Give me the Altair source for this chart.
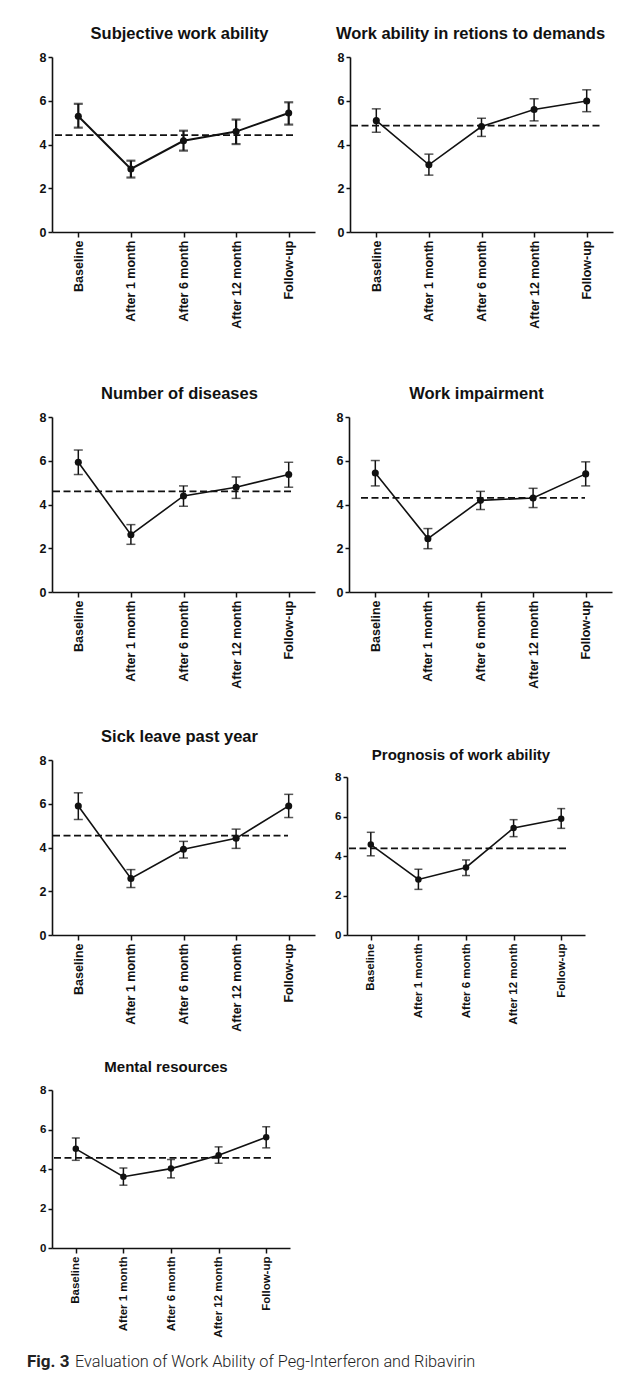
import altair as alt
import pandas as pd

categories = ["Baseline", "After 1 month", "After 6 month", "After 12 month", "Follow-up"]

titles = [
    "Subjective work ability",
    "Work ability in retions to demands",
    "Number of diseases",
    "Work impairment",
    "Sick leave past year",
    "Prognosis of work ability",
    "Mental resources",
]

mean_1 = [5.29, 2.88, 4.17, 4.59, 5.44]
low_1 = [4.77, 2.49, 3.72, 4.02, 4.91]
high_1 = [5.86, 3.26, 4.63, 5.14, 5.93]
ref_1 = 4.43

mean_2 = [5.09, 3.07, 4.82, 5.60, 5.99]
low_2 = [4.56, 2.60, 4.37, 5.08, 5.50]
high_2 = [5.63, 3.56, 5.20, 6.09, 6.50]
ref_2 = 4.86

mean_3 = [5.93, 2.62, 4.39, 4.79, 5.37]
low_3 = [5.37, 2.18, 3.92, 4.28, 4.79]
high_3 = [6.49, 3.08, 4.85, 5.26, 5.93]
ref_3 = 4.60

mean_4 = [5.44, 2.44, 4.19, 4.30, 5.40]
low_4 = [4.85, 1.98, 3.77, 3.86, 4.85]
high_4 = [6.01, 2.90, 4.60, 4.74, 5.95]
ref_4 = 4.30

mean_5 = [5.90, 2.58, 3.92, 4.42, 5.90]
low_5 = [5.28, 2.17, 3.52, 3.96, 5.37]
high_5 = [6.50, 2.99, 4.28, 4.84, 6.43]
ref_5 = 4.54

mean_6 = [4.58, 2.81, 3.42, 5.42, 5.89]
low_6 = [4.01, 2.31, 3.01, 4.98, 5.40]
high_6 = [5.20, 3.33, 3.80, 5.84, 6.40]
ref_6 = 4.39

mean_7 = [5.02, 3.61, 4.02, 4.70, 5.61]
low_7 = [4.44, 3.18, 3.55, 4.29, 5.07]
high_7 = [5.57, 4.05, 4.48, 5.12, 6.14]
ref_7 = 4.56

y_ticks = [0, 2, 4, 6, 8]

caption_bold = "Fig. 3"
caption_rest = "Evaluation of Work Ability of Peg-Interferon and Ribavirin"

FONT = "Liberation Sans"
CAP_FONT = "Roboto"
INK = "#111111"


def panel(title, means, lows, highs, ref, w, h, tsize, lsize, ref_x0, ref_x1,
          bar_w=1.5, line_w=1.6, cap=9, dot=50, top_gap=0, tdx=-4, tdy=0):
    df = pd.DataFrame({"cat": categories, "mean": means, "lo": lows, "hi": highs})
    x = alt.X(
        "cat:N",
        sort=categories,
        scale=alt.Scale(type="point", padding=0.5),
        axis=alt.Axis(
            title=None, labelAngle=-90, labelFont=FONT, labelFontWeight="bold",
            labelFontSize=lsize, labelColor=INK, domainColor=INK, domainWidth=1.6,
            tickColor=INK, tickWidth=1.5, tickSize=5, labelPadding=3,
        ),
    )
    if top_gap > 0:
        yscale = alt.Scale(domain=[0, 8], nice=False, zero=True, range=[h, top_gap])
    else:
        yscale = alt.Scale(domain=[0, 8], nice=False, zero=True)
    yaxis = alt.Axis(
        title=None, values=y_ticks, tickCount=len(y_ticks), grid=False,
        labelFont=FONT, labelFontWeight="bold",
        labelFontSize=lsize, labelColor=INK, domainColor=INK, domainWidth=1.6,
        tickColor=INK, tickWidth=1.5, tickSize=4, labelPadding=2,
        minExtent=20, maxExtent=20, labelOverlap=False,
    )
    base = alt.Chart(df)
    line = base.mark_line(color=INK, strokeWidth=line_w).encode(
        x=x, y=alt.Y("mean:Q", scale=yscale, axis=yaxis)
    )
    bars = base.mark_rule(color=INK, strokeWidth=bar_w).encode(
        x=x, y=alt.Y("lo:Q", scale=yscale), y2="hi:Q"
    )
    cap_lo = base.mark_tick(color=INK, thickness=bar_w, size=cap, orient="horizontal").encode(
        x=x, y=alt.Y("lo:Q", scale=yscale)
    )
    cap_hi = base.mark_tick(color=INK, thickness=bar_w, size=cap, orient="horizontal").encode(
        x=x, y=alt.Y("hi:Q", scale=yscale)
    )
    dots = base.mark_circle(color=INK, opacity=1, size=dot).encode(
        x=x, y=alt.Y("mean:Q", scale=yscale)
    )
    rdf = pd.DataFrame({"ref": [ref]})
    rule = alt.Chart(rdf).mark_rule(color=INK, strokeWidth=1.7, strokeDash=[7, 3.5]).encode(
        y=alt.Y("ref:Q", scale=yscale), x=alt.value(ref_x0), x2=alt.value(ref_x1)
    )
    return alt.layer(rule, line, bars, cap_lo, cap_hi, dots).properties(
        width=w, height=h,
        title=alt.TitleParams(title, font=FONT, fontSize=tsize, fontWeight="bold",
                              color=INK, offset=9, dx=tdx, dy=tdy),
    )


W, H = 263, 175
W2, H2 = 238, 158

p1 = panel(titles[0], mean_1, low_1, high_1, ref_1, W, H, 16.5, 12.5, 3, 243, bar_w=2.2, line_w=2)
p2 = panel(titles[1], mean_2, low_2, high_2, ref_2, W, H, 16.5, 12.5, 1, 250, tdx=-11)
p3 = panel(titles[2], mean_3, low_3, high_3, ref_3, W, H, 16.5, 12.5, 1, 240)
p4 = panel(titles[3], mean_4, low_4, high_4, ref_4, W, H, 16.5, 12.5, 12, 236)
p5 = panel(titles[4], mean_5, low_5, high_5, ref_5, W, H, 16.5, 12.5, 1, 236)
p6 = panel(titles[5], mean_6, low_6, high_6, ref_6, W2, H, 15, 11.5, 2, 220, cap=8, dot=42,
           top_gap=17, tdx=-5, tdy=12)
p7 = panel(titles[6], mean_7, low_7, high_7, ref_7, W2, H2, 15, 11.5, 2, 220, cap=8, dot=42,
           tdx=-5)

cap_df = pd.DataFrame({"bold": [caption_bold], "rest": [caption_rest]})
cap_base = alt.Chart(cap_df)
cap1 = cap_base.mark_text(align="left", baseline="middle", font=CAP_FONT,
                          fontSize=17, fontWeight="bold", color="#222222").encode(
    text="bold:N", x=alt.value(-25), y=alt.value(10)
)
cap2 = cap_base.mark_text(align="left", baseline="middle", font=CAP_FONT,
                          fontSize=16.3, fontWeight=300, color="#222222").encode(
    text="rest:N", x=alt.value(23), y=alt.value(10)
)
caption = alt.layer(cap1, cap2).properties(width=540, height=20)

row1 = alt.hconcat(p1, p2, spacing=15)
row2 = alt.hconcat(p3, p4, spacing=14)
row3 = alt.hconcat(p5, p6, spacing=12)

chart = alt.vconcat(
    row1,
    alt.vconcat(
        row2,
        alt.vconcat(
            row3,
            alt.vconcat(p7, caption, spacing=14),
            spacing=28,
        ),
        spacing=39,
    ),
    spacing=56,
).properties(
    padding={"left": 19, "top": 17, "right": 5, "bottom": 5},
    background="white",
).configure_view(stroke="transparent", strokeWidth=0)

chart.save("out.html", embed_options={"renderer": "svg", "actions": False})
